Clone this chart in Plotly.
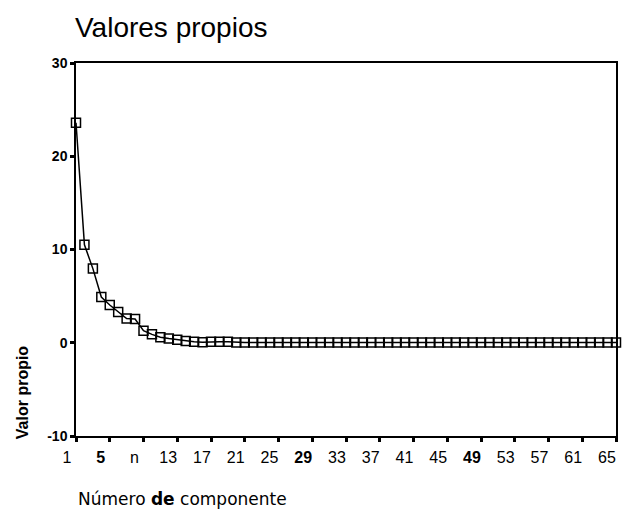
import plotly.graph_objects as go

components = list(range(1, 66))
eigenvalues = [
    23.6, 10.5, 7.95, 4.9, 4.05, 3.3, 2.6, 2.55, 1.3, 0.9,
    0.6, 0.45, 0.33, 0.2, 0.1, 0.05, 0.1, 0.1, 0.1, 0.02,
    0.02, 0.02, 0.02, 0.02, 0.02, 0.02, 0.02, 0.02, 0.02, 0.02,
    0.02, 0.02, 0.02, 0.02, 0.02, 0.02, 0.02, 0.02, 0.02, 0.02,
    0.02, 0.02, 0.02, 0.02, 0.02, 0.02, 0.02, 0.02, 0.02, 0.02,
    0.02, 0.02, 0.02, 0.02, 0.02, 0.02, 0.02, 0.02, 0.02, 0.02,
    0.02, 0.02, 0.02, 0.02, 0.02,
]
x_tickvals = [1, 5, 9, 13, 17, 21, 25, 29, 33, 37, 41, 45, 49, 53, 57, 61, 65]
x_ticktext = ["1", "<b>5</b>", "n", "13", "17", "21", "25", "<b>29</b>", "33", "37",
              "41", "45", "<b>49</b>", "53", "57", "61", "65"]
y_tickvals = [-10, 0, 10, 20, 30]
y_ticktext = ["<b>-10</b>", "<b>0</b>", "<b>10</b>", "<b>20</b>", "<b>30</b>"]

FONT = "Liberation Sans, Arial, sans-serif"

fig = go.Figure()
fig.add_trace(go.Scatter(
    x=components, y=eigenvalues, mode="lines+markers",
    line=dict(color="black", width=1.5),
    marker=dict(symbol="square-open", size=9, color="black", line=dict(width=1.5)),
    cliponaxis=False,
    showlegend=False,
))

fig.update_layout(
    width=624, height=509,
    margin=dict(l=76, r=6, t=63, b=73),
    paper_bgcolor="white", plot_bgcolor="white",
    font=dict(family=FONT, color="black"),
    title=dict(text="Valores propios", x=75/624, xanchor="left", xref="container",
               y=1 - 27/509, yanchor="middle", font=dict(size=28, family=FONT, color="black")),
    xaxis=dict(range=[1, 65], tickvals=x_tickvals, ticktext=x_ticktext,
               showgrid=False, zeroline=False, showline=True, linecolor="black", linewidth=1.5,
               mirror=True, ticks="outside", ticklen=4, tickwidth=3, tickcolor="black",
               ticklabelshift=-9, ticklabelstandoff=2,
               tickfont=dict(size=16, family=FONT, color="black")),
    yaxis=dict(range=[-10, 30], tickvals=y_tickvals, ticktext=y_ticktext,
               showgrid=False, zeroline=False, showline=True, linecolor="black", linewidth=1.5,
               mirror=True, ticks="outside", ticklen=4, tickwidth=3, tickcolor="black",
               tickfont=dict(size=14, family=FONT, color="black")),
    annotations=[
        dict(text="<b>Valor propio</b>", textangle=-90, xref="paper", yref="paper",
             x=(22 - 76) / 542, y=(436 - 392) / 373, xanchor="center", yanchor="middle",
             showarrow=False, font=dict(size=16, family=FONT, color="black")),
        dict(text="Número <b>de</b> componente", xref="paper", yref="paper",
             x=0, y=(436 - 499) / 373, xanchor="left", yanchor="middle",
             showarrow=False, font=dict(size=17, family="DejaVu Sans, sans-serif", color="black")),
    ],
)

fig.write_html("out.html", config={"displayModeBar": False})

with open("out.html", "r", encoding="utf-8") as f:
    html = f.read()
html = html.replace("<head>", "<head><style>html,body{margin:0;padding:0;overflow:hidden}</style>", 1)
with open("out.html", "w", encoding="utf-8") as f:
    f.write(html)
